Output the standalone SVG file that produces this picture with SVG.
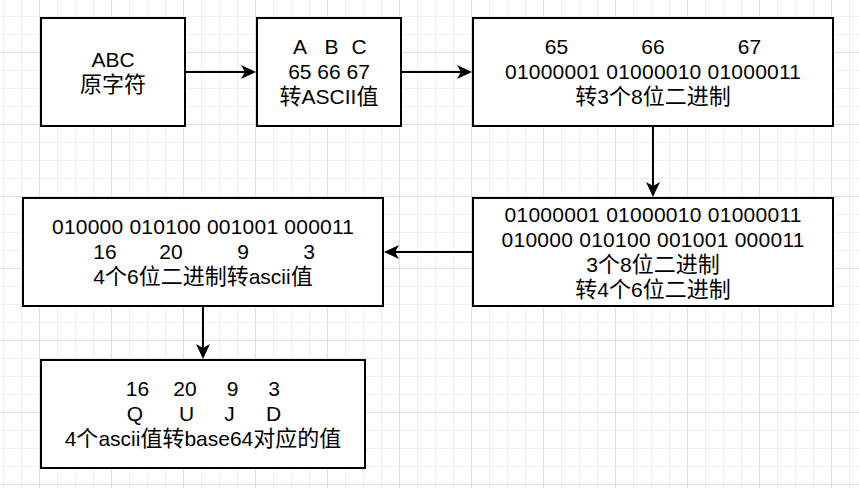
<svg xmlns="http://www.w3.org/2000/svg" width="859" height="488" viewBox="0 0 859 488">
  <defs>
    <pattern id="minor" patternUnits="userSpaceOnUse" x="3" y="16" width="18" height="18">
      <path d="M0.5 0V18M0 0.5H18" stroke="#f0f0f0" stroke-width="1" fill="none"/>
    </pattern>
    <pattern id="major" patternUnits="userSpaceOnUse" x="39" y="52" width="72" height="72">
      <path d="M0.5 0V72M0 0.5H72" stroke="#e0e0e0" stroke-width="1" fill="none"/>
    </pattern>
    <marker id="arrow" markerUnits="userSpaceOnUse" viewBox="-5 -8 17 16" markerWidth="17" markerHeight="16" refX="0" refY="0" orient="auto" overflow="visible">
      <path d="M11 0L-4 -7L0 0L-4 7Z" fill="#000"/>
    </marker>
  </defs>
  <style>
    .box { fill: #fff; stroke: #000; stroke-width: 2; }
    .t { font-family: "Liberation Sans", Arial, "Noto Sans CJK SC", sans-serif; font-size: 21px; fill: #000; text-anchor: middle; }
    .c { font-size: 22px; }
    .edge { stroke: #000; stroke-width: 2; fill: none; marker-end: url(#arrow); }
  </style>
  <rect width="859" height="488" fill="#fff"/>
  <rect width="859" height="488" fill="url(#minor)"/>
  <rect width="859" height="488" fill="url(#major)"/>

  <g id="connectors">
    <line class="edge" x1="186" y1="72" x2="245" y2="72"/>
    <line class="edge" x1="402" y1="72" x2="461" y2="72"/>
    <line class="edge" x1="653" y1="127" x2="653" y2="186"/>
    <line class="edge" x1="472" y1="252" x2="395" y2="252"/>
    <line class="edge" x1="203" y1="307" x2="203" y2="348"/>
  </g>

  <g id="node-abc">
    <rect class="box" x="41" y="18" width="144" height="108"/>
    <text class="t" x="113" y="67">ABC</text>
    <text class="t" x="113" y="92"><tspan class="c">原字符</tspan></text>
  </g>

  <g id="node-ascii">
    <rect class="box" x="257" y="18" width="144" height="108"/>
    <text class="t" x="300" y="54">A</text>
    <text class="t" x="331.5" y="54">B</text>
    <text class="t" x="359" y="54">C</text>
    <text class="t" x="329" y="79">65 66 67</text>
    <text class="t" x="329" y="104"><tspan class="c">转</tspan>ASCII<tspan class="c">值</tspan></text>
  </g>

  <g id="node-8bit">
    <rect class="box" x="473" y="18" width="360" height="108"/>
    <text class="t" x="556.5" y="54">65</text>
    <text class="t" x="653" y="54">66</text>
    <text class="t" x="749.5" y="54">67</text>
    <text class="t" x="653" y="79" textLength="296" lengthAdjust="spacing">01000001 01000010 01000011</text>
    <text class="t" x="653" y="104"><tspan class="c">转</tspan>3<tspan class="c">个</tspan>8<tspan class="c">位二进制</tspan></text>
  </g>

  <g id="node-6bit">
    <rect class="box" x="473" y="198" width="360" height="108"/>
    <text class="t" x="653" y="222" textLength="297" lengthAdjust="spacing">01000001 01000010 01000011</text>
    <text class="t" x="653" y="247" textLength="303" lengthAdjust="spacing">010000 010100 001001 000011</text>
    <text class="t" x="653" y="272">3<tspan class="c">个</tspan>8<tspan class="c">位二进制</tspan></text>
    <text class="t" x="653" y="297"><tspan class="c">转</tspan>4<tspan class="c">个</tspan>6<tspan class="c">位二进制</tspan></text>
  </g>

  <g id="node-asciival">
    <rect class="box" x="23" y="198" width="360" height="108"/>
    <text class="t" x="203" y="234" textLength="302" lengthAdjust="spacing">010000 010100 001001 000011</text>
    <text class="t" x="105" y="259">16</text>
    <text class="t" x="171" y="259">20</text>
    <text class="t" x="243" y="259">9</text>
    <text class="t" x="309" y="259">3</text>
    <text class="t" x="203" y="284">4<tspan class="c">个</tspan>6<tspan class="c">位二进制转</tspan>ascii<tspan class="c">值</tspan></text>
  </g>

  <g id="node-base64">
    <rect class="box" x="41" y="360" width="324" height="108"/>
    <text class="t" x="137.5" y="396">16</text>
    <text class="t" x="185" y="396">20</text>
    <text class="t" x="232.5" y="396">9</text>
    <text class="t" x="274" y="396">3</text>
    <text class="t" x="135" y="421">Q</text>
    <text class="t" x="186.5" y="421">U</text>
    <text class="t" x="229.5" y="421">J</text>
    <text class="t" x="273.5" y="421">D</text>
    <text class="t" x="203" y="446">4<tspan class="c">个</tspan>ascii<tspan class="c">值转</tspan>base64<tspan class="c">对应的值</tspan></text>
  </g>
</svg>
